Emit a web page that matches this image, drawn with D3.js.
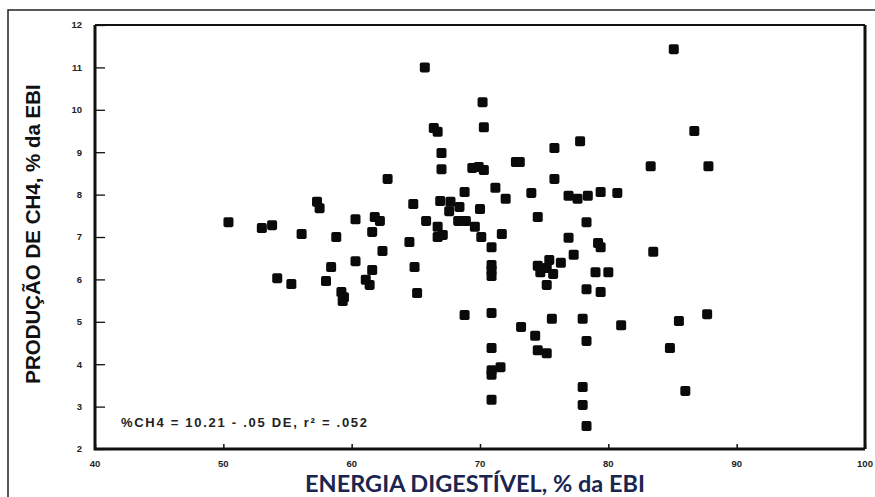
<!DOCTYPE html>
<html><head><meta charset="utf-8">
<script src="https://cdn.jsdelivr.net/npm/d3@7"></script>
<style>body{margin:0;background:#fff;}svg{display:block;}</style>
</head><body>
<svg id="c" width="875" height="497"></svg>
<script>
const xTicks = [40, 50, 60, 70, 80, 90, 100];
const yTicks = [2, 3, 4, 5, 6, 7, 8, 9, 10, 11, 12];
const xTitle = "ENERGIA DIGESTÍVEL, % da EBI";
const yTitle = "PRODUÇÃO DE CH4, % da EBI";
const equation = "%CH4 = 10.21 - .05 DE,  r² = .052";
const de = [50.4,53.0,53.8,57.3,57.5,56.1,58.8,60.3,61.8,62.2,61.6,62.8,64.8,65.7,65.8,64.5,62.4,54.2,55.3,58.0,58.4,60.3,59.2,59.4,59.3,61.6,61.1,61.4,64.9,65.1,
66.4,66.7,67.0,67.0,66.9,67.7,68.4,67.6,68.8,69.4,69.9,70.3,70.2,70.3,70.0,66.7,68.3,68.9,69.6,71.7,70.1,67.1,66.7,70.9,70.9,70.9,70.9,70.9,68.8,71.2,72.0,74.0,72.8,73.1,
74.5,78.3,76.9,79.2,79.4,83.5,75.8,77.8,75.8,76.9,77.6,78.4,79.4,80.7,83.3,87.8,86.7,85.1,75.4,76.3,77.3,74.5,74.7,75.2,75.7,75.2,79.0,80.0,78.3,79.4,
75.6,78.0,81.0,85.5,87.7,84.8,86.0,78.0,78.0,78.3,78.3,74.3,74.5,75.2,73.2,70.9,70.9,70.9,71.6,70.9];
const ch4 = [7.35,7.21,7.28,7.83,7.68,7.07,7.00,7.42,7.47,7.38,7.12,8.37,7.78,11.0,7.38,6.88,6.67,6.03,5.89,5.96,6.29,6.43,5.70,5.58,5.49,6.22,5.99,5.87,6.29,5.68,
9.57,9.48,8.98,8.60,7.85,7.83,7.71,7.61,8.06,8.63,8.65,8.58,10.18,9.59,7.66,7.24,7.38,7.38,7.24,7.07,7.00,7.05,7.00,6.76,6.34,6.22,6.08,5.21,5.16,8.16,7.90,8.04,8.77,8.77,
7.47,7.35,6.98,6.86,6.76,6.65,9.10,9.26,8.37,7.97,7.90,7.97,8.06,8.04,8.67,8.67,9.50,11.43,6.46,6.39,6.58,6.32,6.17,6.27,6.13,5.87,6.17,6.17,5.77,5.70,
5.07,5.07,4.92,5.02,5.18,4.38,3.37,3.46,3.04,2.54,4.55,4.67,4.33,4.26,4.88,4.38,3.86,3.75,3.93,3.16];

const svg = d3.select("#c");
const L = 95, R = 865, T = 25, B = 449;
const x = d3.scaleLinear().domain([40, 100]).range([L, R]);
const y = d3.scaleLinear().domain([2, 12]).range([B, T]);

// outer border
svg.append("rect").attr("x", 8).attr("y", 10).attr("width", 900).attr("height", 520)
  .attr("fill", "none").attr("stroke", "#222").attr("stroke-width", 1.5);

// axes with inward ticks
const yAxis = svg.append("g").attr("transform", `translate(${L},0)`)
  .call(d3.axisRight(y).tickValues(yTicks).tickSize(10).tickFormat(""));
yAxis.select(".domain").remove();
yAxis.selectAll("line").attr("stroke", "#111").attr("stroke-width", 1.3);
const xAxis = svg.append("g").attr("transform", `translate(0,${B})`)
  .call(d3.axisTop(x).tickValues(xTicks).tickSize(5).tickFormat(""));
xAxis.select(".domain").remove();
xAxis.selectAll("line").attr("stroke", "#111").attr("stroke-width", 1.5);

// tick labels
svg.append("g").selectAll("text").data(yTicks).join("text")
  .attr("x", L - 13).attr("y", d => y(d) + 3.3)
  .attr("text-anchor", "end").attr("font-family", "Liberation Sans, Arial, sans-serif")
  .attr("font-weight", "bold").attr("font-size", 9.5).attr("fill", "#222").text(d => d);
svg.append("g").selectAll("text").data(xTicks).join("text")
  .attr("x", d => x(d)).attr("y", B + 18)
  .attr("text-anchor", "middle").attr("font-family", "Liberation Sans, Arial, sans-serif")
  .attr("font-weight", "bold").attr("font-size", 9.5).attr("fill", "#222").text(d => d);

// plot frame
svg.append("path")
  .attr("d", `M${L},${T}H${R}`).attr("stroke", "#111").attr("stroke-width", 2.2).attr("fill", "none");
svg.append("path")
  .attr("d", `M${R},${T}V${B}`).attr("stroke", "#111").attr("stroke-width", 3).attr("fill", "none");
svg.append("path")
  .attr("d", `M${L},${T}V${B}H${R}`).attr("stroke", "#111").attr("stroke-width", 3).attr("fill", "none");

// points
const pts = de.map((d, i) => ({ x: d, y: ch4[i] }));
svg.append("g").selectAll("rect").data(pts).join("rect")
  .attr("x", d => x(d.x) - 5).attr("y", d => y(d.y) - 5)
  .attr("width", 10).attr("height", 10).attr("rx", 1.8)
  .attr("fill", "#0a0a0a");

// equation
svg.append("text").attr("x", 121).attr("y", 427)
  .attr("font-family", "Liberation Sans, Arial, sans-serif").attr("font-weight", "bold")
  .attr("font-size", 13).attr("fill", "#222")
  .attr("textLength", 246).attr("lengthAdjust", "spacing").text(equation);

// titles
svg.append("text").attr("transform", `translate(40,${234}) rotate(-90)`)
  .attr("text-anchor", "middle").attr("font-family", "Liberation Sans, Arial, sans-serif")
  .attr("font-weight", "bold").attr("font-size", 20.5).attr("fill", "#111").text(yTitle);
svg.append("text").attr("x", 475).attr("y", 492)
  .attr("text-anchor", "middle").attr("font-family", "Lato, 'Open Sans', sans-serif")
  .attr("font-weight", "bold").attr("font-size", 23.5).attr("fill", "#1a2550").text(xTitle);
</script>
</body></html>
